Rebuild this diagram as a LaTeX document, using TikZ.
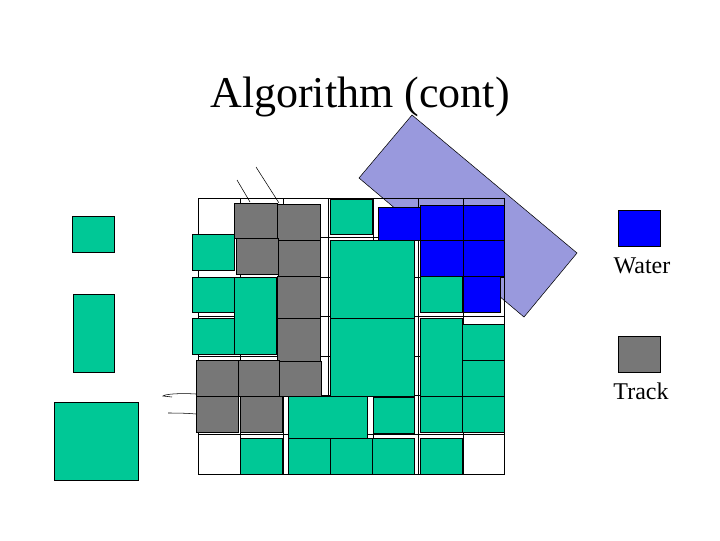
\documentclass[tikz,border=0pt]{standalone}
\usepackage{fontspec}
\setmainfont{Liberation Serif}
\begin{document}
\begin{tikzpicture}[x=0.75pt,y=-0.75pt,
  cell/.style={draw=black,line width=0.6pt,fill=white},
  grn/.style={draw=black,line width=0.4pt,fill=tgreen},
  gry/.style={draw=black,line width=0.5pt,fill=tgray},
  blu/.style={draw=black,line width=0.4pt,fill=tblue},
  lbl/.style={font=\fontsize{18}{20}\selectfont,inner sep=0pt}]
\definecolor{tgreen}{RGB}{0,200,150}
\definecolor{tgray}{RGB}{119,119,119}
\definecolor{tblue}{RGB}{0,0,255}
\definecolor{tlav}{RGB}{153,153,221}
\useasboundingbox (0,0) rectangle (720,540);
\node[font=\fontsize{33}{36}\selectfont,inner sep=0pt] (title) at (360,97) {Algorithm (cont)};
% lavender
\filldraw[fill=tlav,draw=black,line width=0.4pt] (412,115) -- (577,253) -- (524,317) -- (359,178) -- cycle;
% grid
\foreach \xa/\xb in {198/240,240/283,283/328,328/373,373/418,418/463,463/504}
  \foreach \ya/\yb in {198/237,237/277,277/316,316/356,356/395,395/434,434/474}
    \draw[cell,fill=none] (\xa,\ya) rectangle (\xb,\yb);
\fill[white] (198,198) rectangle (240,237);
\fill[white] (198,434) rectangle (240,474);
\fill[white] (463,434) rectangle (504,474);
\draw[cell,fill=none] (198,198) rectangle (240,237) (198,434) rectangle (240,474) (463,434) rectangle (504,474);
% gray
\foreach \a/\b/\c/\d in {234/203/277/238, 277/204/320/240, 236/238/278/274, 278/240/320/276,
  277/276/320/318, 277/318/320/361, 196/360/238/396, 238/360/279/396, 279/361/321/396,
  196/396/238/432, 240/396/282/432}
  \draw[gry] (\a,\b) rectangle (\c,\d);
% green
\foreach \a/\b/\c/\d in {192/234/234/270, 192/277/234/312, 192/318/234/354, 234/277/276/354,
  240/438/282/474, 288/396/367/438, 373/397/414/433, 288/438/330/474, 330/438/372/474, 372/438/414/474,
  420/438/462/474, 330/199/372/234, 330/240/414/318, 330/318/414/396, 420/276/462/312,
  420/318/462/396, 462/324/504/360, 462/360/504/396, 420/396/462/432, 462/396/504/432}
  \draw[grn] (\a,\b) rectangle (\c,\d);
% blue
\foreach \a/\b/\c/\d in {378/207/420/240, 420/205/463/240, 463/205/504/240, 420/240/463/276,
  463/240/504/276, 463/276/500/312}
  \draw[blu] (\a,\b) rectangle (\c,\d);
% thin lines
\draw[line width=0.4pt] (237,180) -- (250,202);
\draw[line width=0.4pt] (256,167) -- (279,203);
\draw[line width=0.4pt] (196,394) .. controls (180,393) and (165,394) .. (163,396) -- (172,397);
\draw[line width=0.4pt] (196,414) .. controls (185,413) and (175,413) .. (168,413);
% left legend
\draw[grn] (72,216) rectangle (114,252);
\draw[grn] (73,294) rectangle (114,372);
\draw[grn] (54,402) rectangle (138,480);
% right legend
\draw[blu] (618,210) rectangle (660,246);
\node[lbl] (water) at (642,266) {Water};
\draw[gry] (618,336) rectangle (660,372);
\node[lbl] (track) at (641,391) {Track};
\end{tikzpicture}
\end{document}
